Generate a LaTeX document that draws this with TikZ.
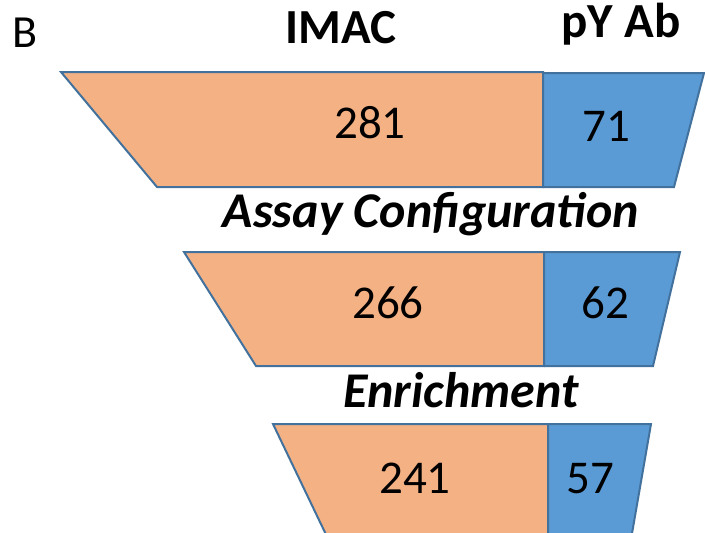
\documentclass[tikz,border=0pt]{standalone}
\usepackage{fontspec}
\setmainfont{Carlito}
\definecolor{orangefill}{HTML}{F4B183}
\definecolor{bluefill}{HTML}{5B9BD5}
\definecolor{edgeblue}{HTML}{41719C}
\begin{document}
\begin{tikzpicture}[x=1pt,y=-1pt,
  seg/.style={draw=edgeblue,line width=2pt,line join=miter},
  num/.style={anchor=base,inner sep=0pt,font=\fontsize{47}{50}\selectfont},
  head/.style={anchor=base,inner sep=0pt,text height=28pt,font=\fontsize{49}{55}\selectfont\bfseries},
  step label/.style={anchor=base,inner sep=0pt,font=\fontsize{50}{55}\selectfont\bfseries\itshape}]
\useasboundingbox (0,0) rectangle (705,533);
\begin{scope}
\clip (0,0) rectangle (705,533);
% funnel 1
\fill[orangefill] (61,72) -- (543,72) -- (543,187) -- (157,187) -- cycle;
\fill[bluefill] (543,73) -- (704,73) -- (674,187) -- (543,187) -- cycle;
\draw[seg] (61,72) -- (543,72) -- (543,187) -- (157,187) -- cycle;
\draw[seg] (543,73) -- (704,73) -- (674,187) -- (543,187);
% funnel 2
\fill[orangefill] (184,252) -- (544,252) -- (544,366) -- (256,366) -- cycle;
\fill[bluefill] (544,252) -- (680,252) -- (653,366) -- (544,366) -- cycle;
\draw[seg] (184,252) -- (544,252) -- (544,366) -- (256,366) -- cycle;
\draw[seg] (544,252) -- (680,252) -- (653,366) -- (544,366);
% funnel 3
\fill[orangefill] (273,424) -- (548,424) -- (548,545) -- (331,545) -- cycle;
\fill[bluefill] (548,424) -- (651,424) -- (630,545) -- (548,545) -- cycle;
\draw[seg] (331,545) -- (273,424) -- (548,424) -- (548,545);
\draw[seg] (548,424) -- (651,424) -- (630,545);
\end{scope}
\node[anchor=base west,inner sep=0pt,font=\fontsize{46}{50}\selectfont] (b) at (12,47) {B};
\node[head] (imac) at (341,43) {IMAC};
\node[head] (pyab) at (621,37) {pY Ab};
\node[num] (n281) at (370,138) {281};
\node[num] (n71) at (606,141) {71};
\node[step label] (assay) at (431,227) {Assay Configuration};
\node[num] (n266) at (388,318) {266};
\node[num] (n62) at (605,318) {62};
\node[step label] (enrich) at (461,407) {Enrichment};
\node[num] (n241) at (415,493) {241};
\node[num] (n57) at (590,493) {57};
\end{tikzpicture}
\end{document}
